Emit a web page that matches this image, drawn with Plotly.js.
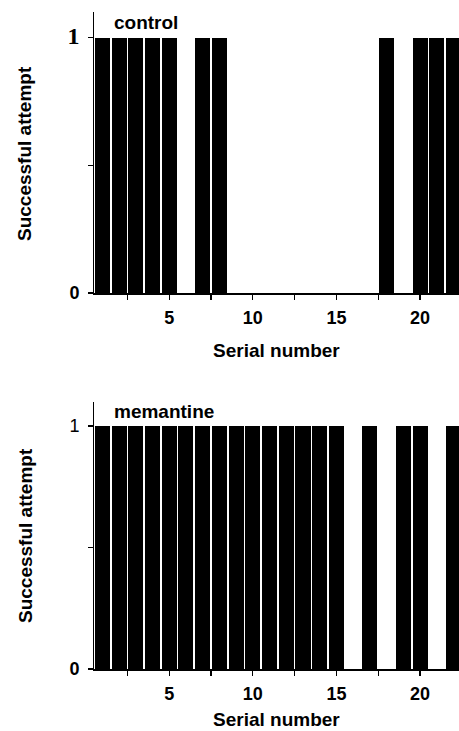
<!DOCTYPE html>
<html>
<head>
<meta charset="utf-8">
<script src="https://cdn.plot.ly/plotly-3.0.1.min.js"></script>
<style>html,body{margin:0;padding:0;background:#fff;}#chart{width:459px;height:731px;}</style>
</head>
<body>
<div id="chart"></div>
<script>
// Data
const serialNumbers = [1,2,3,4,5,6,7,8,9,10,11,12,13,14,15,16,17,18,19,20,21,22];
const controlSuccess = [1,1,1,1,1,0,1,1,0,0,0,0,0,0,0,0,0,1,0,1,1,1];
const memantineSuccess = [1,1,1,1,1,1,1,1,1,1,1,1,1,1,1,0,1,0,1,1,0,1];
const panelLabels = ['control', 'memantine'];
const xTickVals = [2.5,5,7.5,10,12.5,15,17.5,20,22.5];
const xTickText = ['','5','','10','','15','','20',''];
const yTickVals = [0,0.5,1];
const yTickTextTop = ['0','','<span style="font-family:\'Liberation Serif\',serif;font-size:24px">1</span>'];
const yTickTextBottom = ['0','','<span style="font-weight:normal">1</span>'];
const xTitle = 'Serial number';
const yTitle = 'Successful attempt';

const W = 459, H = 731;
const px = v => v / W;
const py = v => 1 - v / H;

const font = {family: 'Liberation Sans, Arial, sans-serif', color: '#000'};

const traces = [
  {type: 'bar', x: serialNumbers, y: controlSuccess, xaxis: 'x', yaxis: 'y',
   width: 0.9, marker: {color: '#000', line: {width: 0}}, hoverinfo: 'x+y'},
  {type: 'bar', x: serialNumbers, y: memantineSuccess, xaxis: 'x2', yaxis: 'y2',
   width: 0.9, marker: {color: '#000', line: {width: 0}}, hoverinfo: 'x+y'}
];

function xAxis(anchor) {
  return {
    anchor: anchor, domain: [px(94), 1], range: [0.5, 22.33],
    showgrid: false, zeroline: false, showline: true, linecolor: '#000', linewidth: 1.5,
    ticks: 'outside', ticklen: 5, tickwidth: 1.2, tickcolor: '#000',
    tickmode: 'array', tickvals: xTickVals, ticktext: xTickText,
    ticklabelstandoff: 3,
    tickfont: Object.assign({}, font, {size: 18, weight: 'bold'})
  };
}
function yAxis(anchor, dom, ticktext) {
  return {
    anchor: anchor, domain: dom, range: [0, 1.1],
    showgrid: false, zeroline: false, showline: true, linecolor: '#000', linewidth: 1,
    ticks: 'outside', ticklen: 5, tickwidth: 1.2, tickcolor: '#000',
    tickmode: 'array', tickvals: yTickVals, ticktext: ticktext,
    ticklabelstandoff: 5,
    tickfont: Object.assign({}, font, {size: 18, weight: 'bold'})
  };
}

const annFont = Object.assign({}, font, {size: 19, weight: 'bold'});
const layout = {
  width: W, height: H,
  margin: {l: 0, r: 0, t: 0, b: 0},
  paper_bgcolor: '#fff', plot_bgcolor: 'rgba(0,0,0,0)',
  showlegend: false, bargap: 0,
  xaxis: xAxis('y'),
  yaxis: yAxis('x', [py(293), py(12)], yTickTextTop),
  xaxis2: xAxis('y2'),
  yaxis2: yAxis('x2', [py(669), py(401.7)], yTickTextBottom),
  annotations: [
    {text: panelLabels[0], xref: 'paper', yref: 'paper', x: px(112), y: py(22), xanchor: 'left', yanchor: 'middle', showarrow: false, font: annFont},
    {text: panelLabels[1], xref: 'paper', yref: 'paper', x: px(112), y: py(411), xanchor: 'left', yanchor: 'middle', showarrow: false, font: annFont},
    {text: xTitle, xref: 'paper', yref: 'paper', x: px(276), y: py(351), xanchor: 'center', yanchor: 'middle', showarrow: false, font: annFont},
    {text: xTitle, xref: 'paper', yref: 'paper', x: px(276), y: py(719.5), xanchor: 'center', yanchor: 'middle', showarrow: false, font: annFont},
    {text: yTitle, xref: 'paper', yref: 'paper', x: px(25), y: py(154), xanchor: 'center', yanchor: 'middle', textangle: -90, showarrow: false, font: annFont},
    {text: yTitle, xref: 'paper', yref: 'paper', x: px(25), y: py(536), xanchor: 'center', yanchor: 'middle', textangle: -90, showarrow: false, font: annFont}
  ]
};

Plotly.newPlot('chart', traces, layout, {displayModeBar: false, staticPlot: true});
</script>
</body>
</html>
